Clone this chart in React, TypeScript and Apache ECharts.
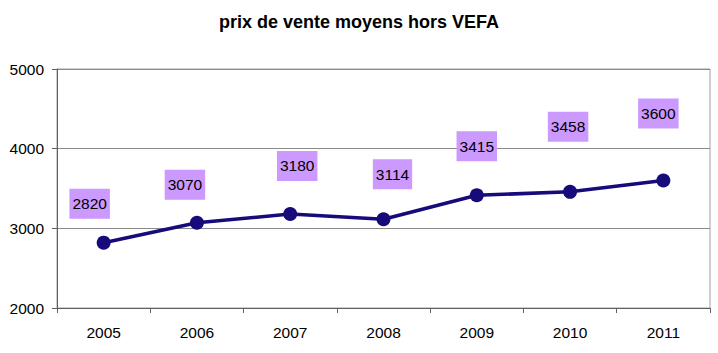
import React, { useEffect, useRef } from "react";
import * as echarts from "echarts";

const years = ["2005", "2006", "2007", "2008", "2009", "2010", "2011"];
const prices = [2820, 3070, 3180, 3114, 3415, 3458, 3600];
const yTicks = { min: 2000, max: 5000, interval: 1000 };
const titleText = "prix de vente moyens hors VEFA";

// label box offsets relative to each point (layout only)
const labelShift: [number, number][] = [
  [-14, -39],
  [-12, -38],
  [7, -48],
  [9, -45],
  [0, -49],
  [-2, -65],
  [-5, -67],
];

export default function App() {
  const ref = useRef<HTMLDivElement>(null);
  useEffect(() => {
    if (!ref.current) return;
    const chart = echarts.init(ref.current, null, { renderer: "svg" });
    const font = "Arial, 'Liberation Sans', sans-serif";
    chart.setOption({
      animation: false,
      backgroundColor: "#ffffff",
      title: {
        text: titleText,
        left: "center",
        top: 8,
        textStyle: { fontFamily: font, fontSize: 18, fontWeight: "bold", color: "#000" },
      },
      grid: {
        left: 57,
        right: 8,
        top: 69,
        bottom: 45,
        show: true,
        borderColor: "#a0a0a0",
        borderWidth: 1,
        containLabel: false,
      },
      xAxis: {
        type: "category",
        data: years,
        boundaryGap: true,
        axisLine: { lineStyle: { color: "#606060", width: 1 } },
        axisTick: { show: true, length: 5, lineStyle: { color: "#606060" } },
        axisLabel: { fontFamily: font, fontSize: 15.5, color: "#000", margin: 16 },
      },
      yAxis: {
        type: "value",
        min: yTicks.min,
        max: yTicks.max,
        interval: yTicks.interval,
        axisLine: { show: true, lineStyle: { color: "#606060", width: 1 } },
        axisTick: { show: true, length: 5, lineStyle: { color: "#606060" } },
        splitLine: { show: true, lineStyle: { color: "#8a8a8a", width: 1 } },
        axisLabel: {
          fontFamily: font,
          fontSize: 15.5,
          color: "#000",
          margin: 13,
          formatter: (v: number) => String(v),
        },
      },
      series: [
        {
          type: "line",
          data: prices.map((v, i) => ({
            value: v,
            label: { offset: labelShift[i] },
          })),
          symbol: "circle",
          symbolSize: 14,
          lineStyle: { color: "#170a7a", width: 3.5 },
          itemStyle: { color: "#170a7a" },
          label: {
            show: true,
            position: "inside",
            fontFamily: font,
            fontSize: 15.5,
            color: "#000",
            backgroundColor: "#cc99ff",
            padding: [7, 3, 6, 3],
            lineHeight: 17,
          },
        },
      ],
    });
    return () => chart.dispose();
  }, []);
  return (
    <div
      ref={ref}
      style={{ position: "absolute", left: 0, top: 0, width: 718, height: 353 }}
    />
  );
}
